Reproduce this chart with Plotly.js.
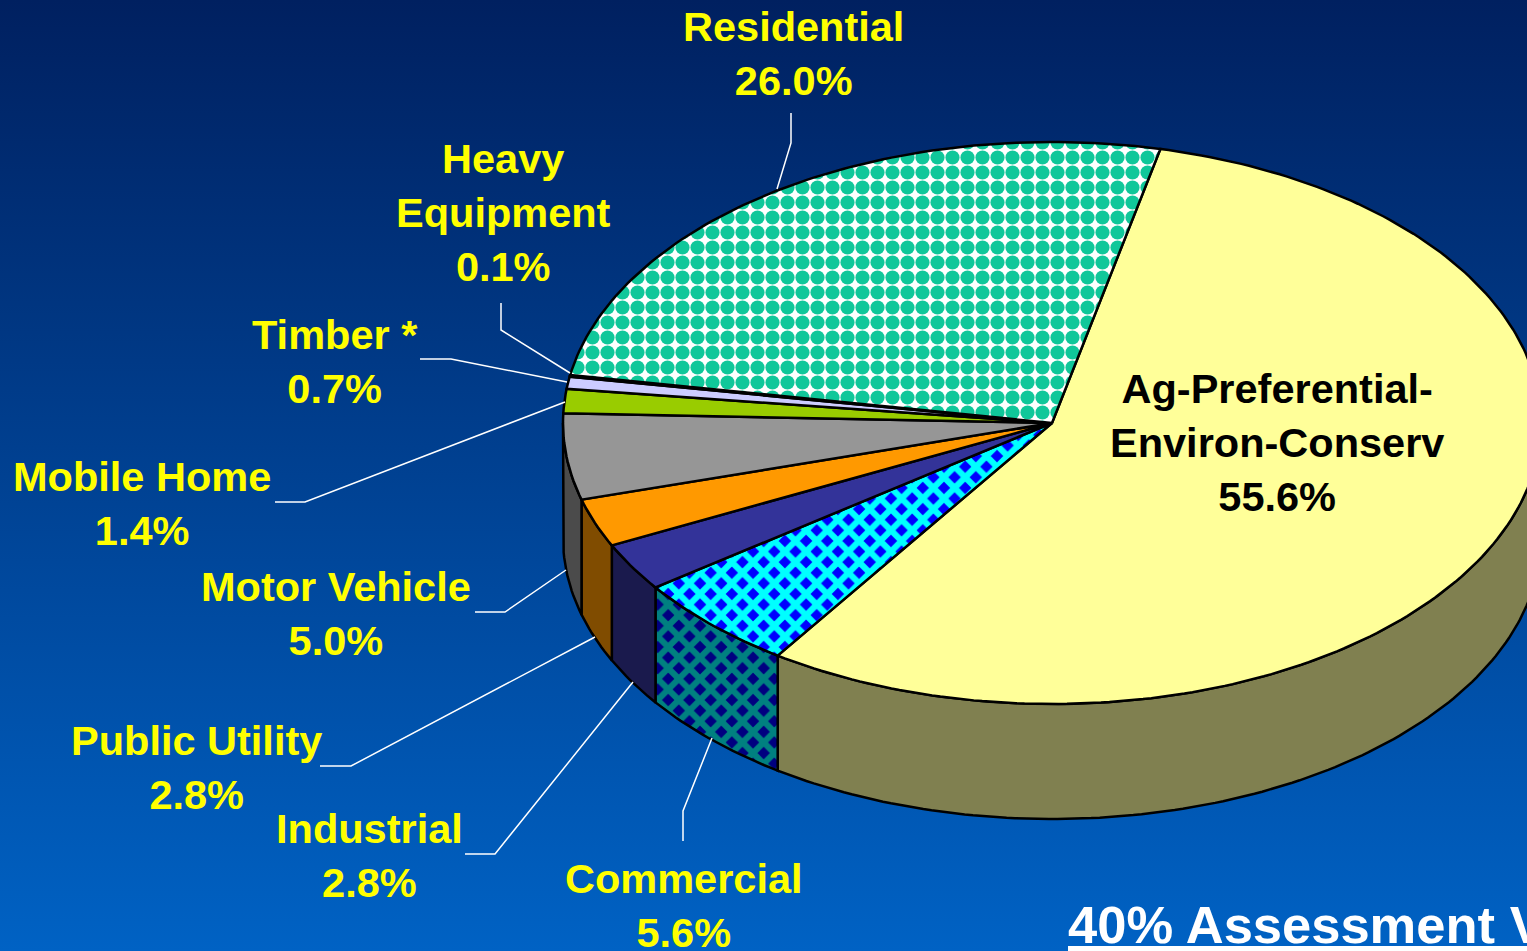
<!DOCTYPE html>
<html>
<head>
<meta charset="utf-8">
<script src="https://cdn.plot.ly/plotly-3.0.1.min.js"></script>
<style>
html,body{margin:0;padding:0;width:1527px;height:951px;overflow:hidden;background:linear-gradient(to bottom,#002060 0%,#0062C4 100%);}
#chart{width:1527px;height:951px;}
</style>
</head>
<body>
<div id="chart"></div>
<script>
// Data
const categories = ["Ag-Preferential-<br>Environ-Conserv","Commercial","Industrial","Public Utility","Motor Vehicle","Mobile Home","Timber *","Heavy<br>Equipment","Residential"];
const shares = [55.6,5.6,2.8,2.8,5.0,1.4,0.7,0.1,26.0];
const topColors = ["#FFFF99","#0000FF","#333399","#FF9900","#969696","#99CC00","#CCCCFF","#FFFFFF","#FFFFFF"];
const wallColors = ["#808050","#000080","#1A1A4D","#804C00","#4B4B4B","#4D6600","#666680","#808080","#006450"];
const patterns = [null,{shape:"x",fg:"#00FFFF",wallFg:"#008080",size:15,solidity:0.66},null,null,null,null,null,null,{shape:".",fg:"#10C79A",wallFg:"#006450",size:15,solidity:0.7}];
const labelCentres = [[1277,442],[684,905],[369,855],[196,767],[336,613],[142,503],[335,361],[503,212],[793,53]];
const labelColors = ["#000000","#FFFF00","#FFFF00","#FFFF00","#FFFF00","#FFFF00","#FFFF00","#FFFF00","#FFFF00"];
const leaderPaths = [
 [[791,113],[791,143],[777,189]],
 [[501,303],[501,330],[570,373]],
 [[420,359],[451,359],[567,382]],
 [[275,502],[305,502],[565,402]],
 [[475,612],[505,612],[566,570]],
 [[320,766],[351,766],[595,637]],
 [[465,854],[495,854],[633,682]],
 [[683,841],[683,811],[712,738]]
];
// Projection of the tilted pie
const cx=1052, cy=423, rx=489, ry=281, depth=115, startDeg=12.8, skew=1.2;
const rad=d=>d*Math.PI/180;
// small perspective correction of the pie's angle
const warp=t=>t+skew*Math.pow(Math.sin(rad((t-startDeg)/2)),2);
const px=t=>cx+rx*Math.sin(rad(t));
const py=(t,dz)=>cy-ry*Math.cos(rad(t))+dz;
function arc(a,b,dz){const n=Math.max(2,Math.ceil(Math.abs(b-a)));const xs=[],ys=[];for(let i=0;i<=n;i++){const t=a+(b-a)*i/n;xs.push(px(t));ys.push(py(t,dz));}return [xs,ys];}
const total=shares.reduce((s,v)=>s+v,0);
let cur=startDeg;
const spans=shares.map(v=>{const a=cur;cur+=v/total*360;return [warp(a),warp(cur)];});
function style(i,wall){
  const p=patterns[i];
  const tr={type:"scatter",mode:"lines",fill:"toself",hoverinfo:"skip",showlegend:false,line:{color:"#000000",width:2.5},fillcolor:wall?wallColors[i]:topColors[i]};
  if(p) tr.fillpattern={shape:p.shape,fgcolor:wall?p.wallFg:p.fg,bgcolor:wall?wallColors[i]:topColors[i],size:p.size,solidity:p.solidity};
  return tr;
}
const traces=[];
spans.forEach((s,i)=>{
  const a=Math.max(s[0],90), b=Math.min(s[1],270);
  if(b<=a) return;
  const [x1,y1]=arc(a,b,0),[x2,y2]=arc(b,a,depth);
  traces.push(Object.assign(style(i,true),{name:"side",x:x1.concat(x2,[x1[0]]),y:y1.concat(y2,[y1[0]])}));
});
spans.forEach((s,i)=>{
  const [x1,y1]=arc(s[0],s[1],0);
  traces.push(Object.assign(style(i,false),{name:categories[i],x:[cx].concat(x1,[cx]),y:[cy].concat(y1,[cy])}));
});
const annotations=categories.map((c,i)=>({xref:"x",yref:"y",x:labelCentres[i][0],y:labelCentres[i][1],xanchor:"center",yanchor:"middle",align:"center",showarrow:false,
  text:(c+"<br>"+shares[i].toFixed(1)+"%").split("<br>").map(l=>"<b>"+l+"</b>").join("<br>"),
  font:{family:"Liberation Sans, Arial, sans-serif",size:41.5,color:labelColors[i]}}));
annotations.push({xref:"x",yref:"y",x:1066,y:924,xanchor:"left",yanchor:"middle",showarrow:false,text:"<b><u>40% Assessment V</u></b>",font:{family:"Liberation Sans, Arial, sans-serif",size:52.5,color:"#FFFFFF"}});
const shapes=leaderPaths.map(p=>({type:"path",xref:"x",yref:"y",layer:"above",path:p.map((q,i)=>(i?"L":"M")+q[0]+","+q[1]).join(" "),line:{color:"#FFFFFF",width:1.5}}));
const layout={width:1527,height:951,margin:{l:0,r:0,t:0,b:0},paper_bgcolor:"rgba(0,0,0,0)",plot_bgcolor:"rgba(0,0,0,0)",
 xaxis:{range:[0,1527],visible:false,fixedrange:true},
 yaxis:{range:[951,0],visible:false,fixedrange:true},
 showlegend:false,annotations,shapes};
Plotly.newPlot("chart",traces,layout,{displayModeBar:false,staticPlot:true});
</script>
</body>
</html>
